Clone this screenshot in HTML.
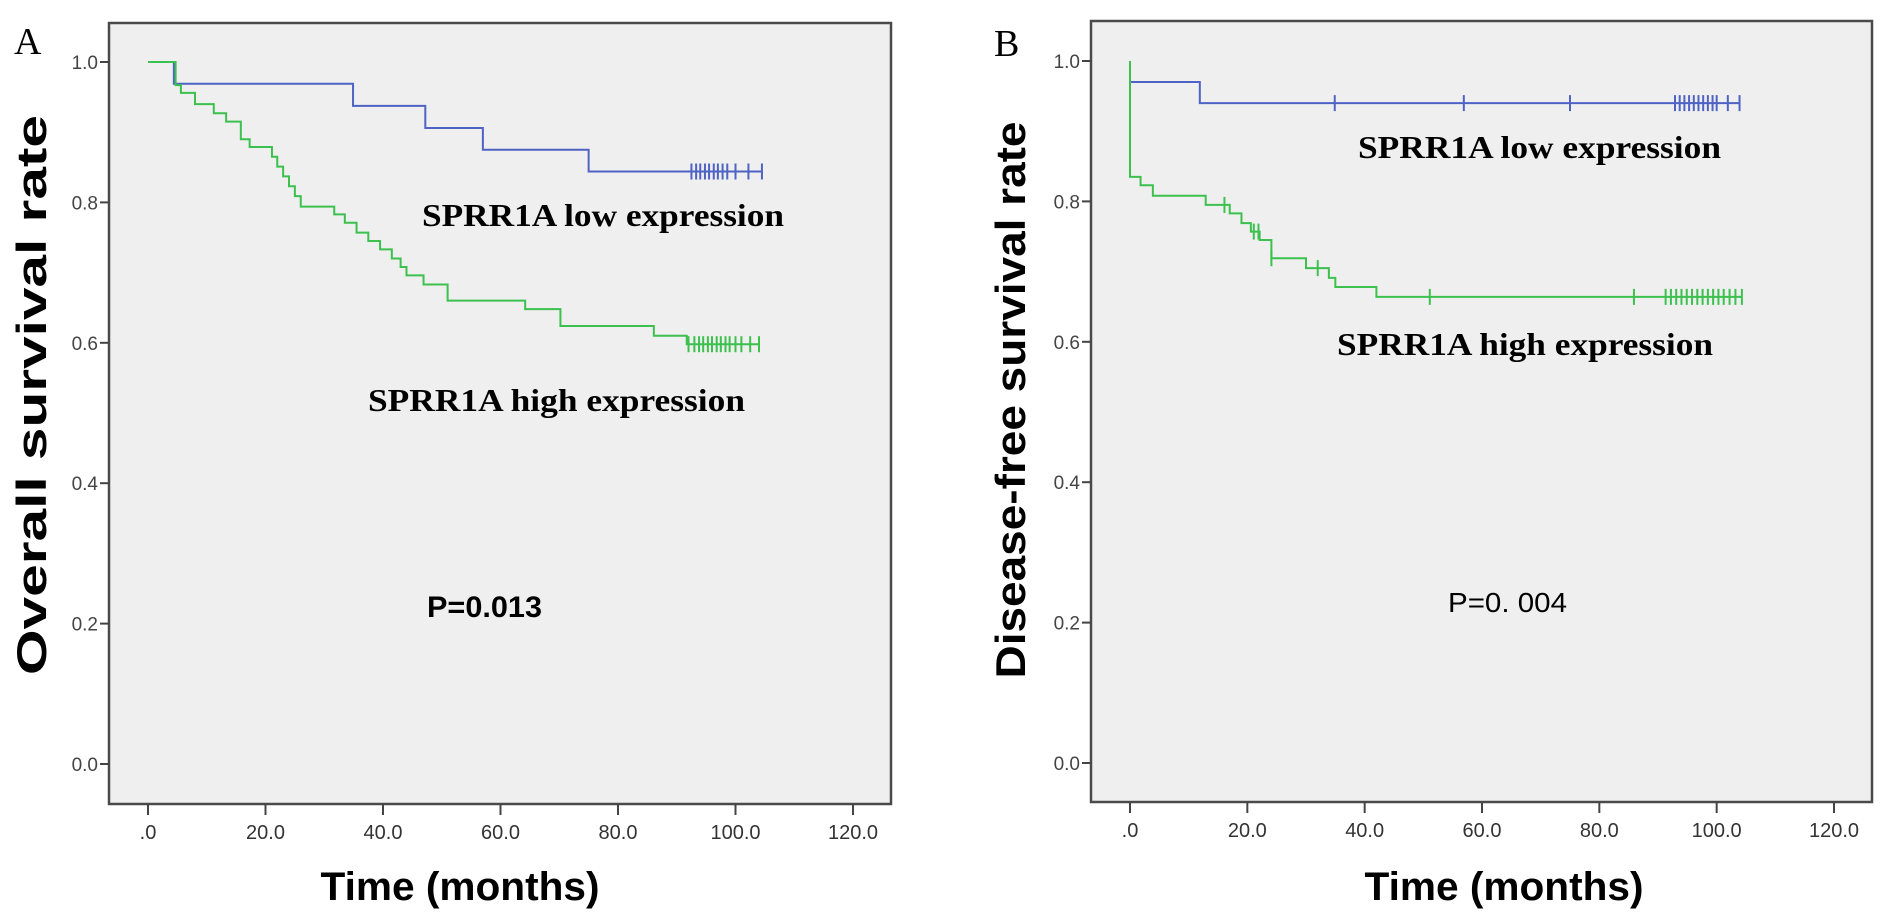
<!DOCTYPE html>
<html><head><meta charset="utf-8"><style>
html,body{margin:0;padding:0;background:#fff;}
svg{display:block;}
</style></head><body>
<svg id="chart" width="1890" height="920" xmlns="http://www.w3.org/2000/svg" font-family="Liberation Sans, sans-serif"></svg>
<script>
// ---------- data ----------
const xTicks = [0, 20, 40, 60, 80, 100, 120];
const xTickLabels = [".0", "20.0", "40.0", "60.0", "80.0", "100.0", "120.0"];
const yTicks = [0, 0.2, 0.4, 0.6, 0.8, 1.0];
const yTickLabels = ["0.0", "0.2", "0.4", "0.6", "0.8", "1.0"];

// Panel A: overall survival
const aLowTimes = [0, 4.4, 34.9, 47.2, 57, 75, 104.5];
const aLowSurv  = [1.0, 0.969, 0.9375, 0.906, 0.875, 0.844, 0.844];
const aLowCensor = [92.5, 93.3, 94, 94.8, 95.5, 96.3, 97, 97.8, 98.6, 100, 102.2, 104.5];
const aHighTimes = [0, 4.7, 5.6, 8, 11.2, 13.3, 15.8, 17.3, 21.1, 22, 23, 24, 25, 26, 31.7, 33.5, 35.5, 37.5, 39.5, 41.5, 43, 44, 46.9, 51, 64.2, 70.2, 86.1, 91.7, 104];
const aHighSurv  = [1.0, 0.967, 0.956, 0.940, 0.927, 0.915, 0.89, 0.879, 0.865, 0.851, 0.837, 0.823, 0.809, 0.794, 0.783, 0.771, 0.757, 0.745, 0.733, 0.720, 0.708, 0.696, 0.683, 0.660, 0.648, 0.624, 0.610, 0.598, 0.598];
const aHighCensor = [92, 93, 93.8, 94.5, 95.3, 96, 96.8, 97.5, 98.3, 99, 100, 101, 102.5, 104];

// Panel B: disease-free survival
const bLowTimes = [0, 0, 11.9, 104];
const bLowSurv  = [1.0, 0.970, 0.940, 0.940];
const bLowCensor = [34.9, 56.9, 75, 92.9, 93.7, 94.5, 95.3, 96.1, 96.9, 97.7, 98.5, 99.3, 100, 101.9, 103.9];
const bHighTimes = [0, 0, 1.8, 3.9, 12.9, 17, 19, 20.6, 22.1, 24.1, 30, 33.9, 35, 42, 104.3];
const bHighSurv  = [1.0, 0.835, 0.823, 0.808, 0.795, 0.783, 0.769, 0.757, 0.745, 0.719, 0.705, 0.691, 0.678, 0.664, 0.664];
const bHighCensor = [16.1, 21.1, 21.9, 24.1, 32, 51.1, 85.9, 91.3, 92.2, 93.1, 94, 94.9, 95.8, 96.7, 97.6, 98.5, 99.4, 100.3, 101.2, 102.2, 103.2, 104.3];

// ---------- drawing ----------
const NS = "http://www.w3.org/2000/svg";
const svg = document.getElementById("chart");
function mk(tag, attrs, parent) {
  const e = document.createElementNS(NS, tag);
  for (const k in attrs) e.setAttribute(k, attrs[k]);
  (parent || svg).appendChild(e);
  return e;
}
const BLUE = "#4e63c4", GREEN = "#3cc04e";

function panel(cfg) {
  const g = mk("g", {});
  
  
  const xs = t => cfg.x0 + (cfg.x1 - cfg.x0) * t / 120;
  const ys = v => cfg.y0 - (cfg.y0 - cfg.y1) * v;
  const bg = mk("rect", {x: cfg.bx, y: cfg.by, width: cfg.bw, height: cfg.bh, fill: "#efefef", stroke: "#4a4a4a", "stroke-width": 2.5}, g);
  
  
  xTicks.forEach((t, i) => {
    const ln = mk("line", {x1: xs(t), x2: xs(t), y1: cfg.by + cfg.bh, y2: cfg.by + cfg.bh + 11, stroke: "#444", "stroke-width": 2}, g);
    
    
    const tx = mk("text", {x: xs(t), y: cfg.by + cfg.bh + 35, "text-anchor": "middle", "font-size": 20, fill: "#333"}, g);
    tx.textContent = xTickLabels[i];
    
    
  });
  yTicks.forEach((v, i) => {
    const ln = mk("line", {x1: cfg.bx - 9, x2: cfg.bx, y1: ys(v), y2: ys(v), stroke: "#444", "stroke-width": 2}, g);
    
    
    const tx = mk("text", {x: cfg.bx - 11, y: ys(v) + 7, "text-anchor": "end", "font-size": 19, fill: "#444"}, g);
    tx.textContent = yTickLabels[i];
    
    
  });
  function curve(times, surv, censor, color, nm) {
    let d = "M" + xs(times[0]) + "," + ys(surv[0]);
    for (let i = 1; i < times.length; i++) {
      d += " H" + xs(times[i]) + " V" + ys(surv[i]);
    }
    const p = mk("path", {d: d, fill: "none", stroke: color, "stroke-width": 2}, g);
    
    
    censor.forEach(t => {
      let s = surv[0];
      for (let i = 0; i < times.length; i++) if (times[i] <= t) s = surv[i];
      const c = mk("line", {x1: xs(t), x2: xs(t), y1: ys(s) - 8, y2: ys(s) + 8, stroke: color, "stroke-width": 2}, g);
      
      
    });
  }
  curve(cfg.lowT, cfg.lowS, cfg.lowC, BLUE, 'low-expression');
  curve(cfg.highT, cfg.highS, cfg.highC, GREEN, 'high-expression');
}

panel({name: "panel-a", bx: 109, by: 23, bw: 782, bh: 781, x0: 148, x1: 853, y0: 764, y1: 62,
  lowT: aLowTimes, lowS: aLowSurv, lowC: aLowCensor, highT: aHighTimes, highS: aHighSurv, highC: aHighCensor});
panel({name: "panel-b", bx: 1091, by: 21, bw: 781, bh: 781, x0: 1130, x1: 1834, y0: 763, y1: 61,
  lowT: bLowTimes, lowS: bLowSurv, lowC: bLowCensor, highT: bHighTimes, highS: bHighSurv, highC: bHighCensor});
</script>
<svg style="position:absolute;left:0;top:0" width="1890" height="920" xmlns="http://www.w3.org/2000/svg">
  <text x="14" y="54" font-family="Liberation Serif, serif" font-size="38">A</text>
  <text x="994" y="56" font-family="Liberation Serif, serif" font-size="38">B</text>

  <text transform="translate(46,395) rotate(-90)" text-anchor="middle" font-family="Liberation Sans, sans-serif" font-weight="bold" font-size="42" textLength="560" lengthAdjust="spacingAndGlyphs">Overall survival rate</text>
  <text transform="translate(1025,400) rotate(-90)" text-anchor="middle" font-family="Liberation Sans, sans-serif" font-weight="bold" font-size="42" textLength="557" lengthAdjust="spacingAndGlyphs">Disease-free survival rate</text>

  <text x="460" y="900" text-anchor="middle" font-family="Liberation Sans, sans-serif" font-weight="bold" font-size="40" textLength="279" lengthAdjust="spacingAndGlyphs">Time (months)</text>
  <text x="1504" y="900" text-anchor="middle" font-family="Liberation Sans, sans-serif" font-weight="bold" font-size="40" textLength="279" lengthAdjust="spacingAndGlyphs">Time (months)</text>

  <text x="422" y="226" font-family="Liberation Serif, serif" font-weight="bold" font-size="32" textLength="362" lengthAdjust="spacingAndGlyphs">SPRR1A  low expression</text>
  <text x="368" y="411" font-family="Liberation Serif, serif" font-weight="bold" font-size="32" textLength="377" lengthAdjust="spacingAndGlyphs">SPRR1A  high expression</text>
  <text x="427" y="617" font-family="Liberation Sans, sans-serif" font-weight="bold" font-size="30" textLength="115" lengthAdjust="spacingAndGlyphs">P=0.013</text>

  <text x="1358" y="158" font-family="Liberation Serif, serif" font-weight="bold" font-size="32" textLength="363" lengthAdjust="spacingAndGlyphs">SPRR1A  low expression</text>
  <text x="1337" y="355" font-family="Liberation Serif, serif" font-weight="bold" font-size="32" textLength="376" lengthAdjust="spacingAndGlyphs">SPRR1A  high expression</text>
  <text x="1448" y="612" font-family="Liberation Sans, sans-serif" font-size="28" textLength="119" lengthAdjust="spacingAndGlyphs">P=0. 004</text>
</svg>
</body></html>
